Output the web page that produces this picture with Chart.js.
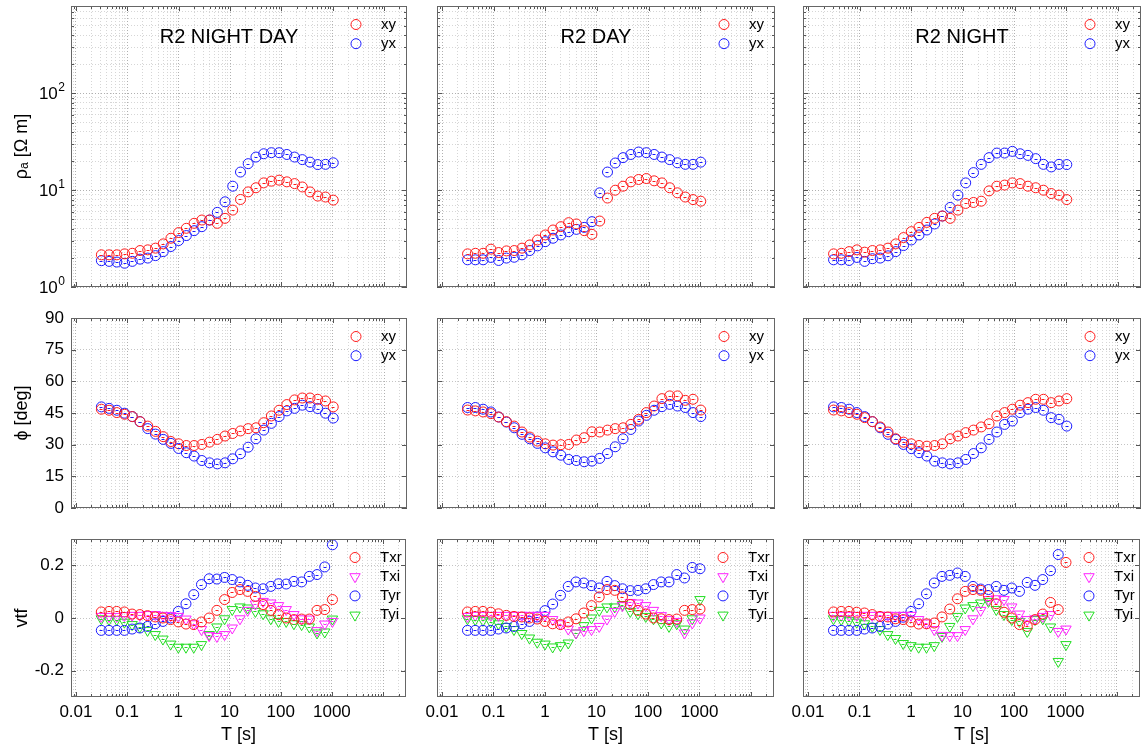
<!DOCTYPE html>
<html>
<head>
<meta charset="utf-8">
<script src="https://cdn.jsdelivr.net/npm/chart.js@4.4.1/dist/chart.umd.min.js"></script>
<style>
  body { margin: 0; background: #fff; width: 1144px; height: 748px; overflow: hidden; position: relative; }
  canvas { position: absolute; }
</style>
</head>
<body>
<script>
// periods (s), one per sounding
const periods = [0.03125, 0.0442, 0.0625, 0.0884, 0.125, 0.177, 0.25, 0.354, 0.5, 0.707, 1, 1.41, 2, 2.83, 4, 5.66,
  8, 11.3, 16, 22.6, 32, 45.3, 64, 90.5, 128, 181, 256, 362, 512, 724, 1024];

const xTickValues = [0.01, 0.1, 1, 10, 100, 1000];
const xTickLabels = ["0.01", "0.1", "1", "10", "100", "1000"];
const rhoTickValues = [1, 10, 100];
const rhoTickExps = ["0", "1", "2"];
const phiTickValues = [0, 15, 30, 45, 60, 75, 90];
const vtfTickValues = [-0.2, 0, 0.2];
const vtfTickLabels = ["-0.2", "0", "0.2"];

const panelTitles = ["R2 NIGHT DAY", "R2 DAY", "R2 NIGHT"];

// ---- R2 NIGHT DAY ----
const rhoXyNightDay = [2.15, 2.15, 2.15, 2.20, 2.23, 2.38, 2.42, 2.52, 2.79, 3.19, 3.65, 4.04, 4.55, 4.92, 4.92, 4.55, 5.12, 6.23, 8.02, 9.61, 10.6, 11.9, 12.4, 12.7, 12.2, 11.7, 10.8, 9.6, 8.7, 8.5, 7.9];
const rhoYxNightDay = [1.87, 1.84, 1.81, 1.76, 1.84, 1.94, 1.99, 2.11, 2.32, 2.62, 3.02, 3.40, 3.82, 4.20, 4.92, 5.90, 7.59, 11.0, 15.4, 18.8, 22.0, 23.8, 24.4, 24.4, 23.4, 22.0, 20.7, 19.5, 18.4, 18.5, 19.2];
const phiXyNightDay = [46.8, 46.3, 45.2, 44.4, 43.3, 40.9, 38.8, 36.3, 33.8, 31.5, 30.4, 29.6, 29.6, 30.1, 31.2, 32.5, 34.1, 35.3, 36.5, 37.6, 38.0, 40.4, 43.6, 46.3, 49.0, 51.2, 52.1, 52.1, 51.5, 50.7, 47.9];
const phiYxNightDay = [47.9, 47.2, 46.3, 44.9, 43.3, 40.9, 37.6, 35.0, 32.5, 30.6, 28.2, 26.2, 24.6, 22.5, 21.4, 20.9, 21.4, 23.3, 25.7, 28.8, 32.8, 36.9, 40.1, 43.3, 46.0, 47.2, 48.7, 48.0, 47.1, 44.9, 42.6];
const txrNightDay = [0.023, 0.025, 0.025, 0.023, 0.015, 0.013, 0.009, 0.004, 0, -0.006, -0.015, -0.023, -0.025, -0.015, 0, 0.029, 0.070, 0.097, 0.108, 0.101, 0.082, 0.051, 0.029, 0.013, 0, -0.006, -0.004, -0.004, 0.029, 0.032, 0.070];
const txiNightDay = [0.006, 0.006, 0.006, 0.009, 0.010, 0.010, 0.013, 0.013, 0.010, 0.009, 0.006, -0.004, -0.022, -0.044, -0.067, -0.070, -0.063, -0.038, -0.003, 0.029, 0.053, 0.063, 0.057, 0.047, 0.032, 0.013, -0.003, -0.004, -0.048, -0.023, -0.013];
const tyrNightDay = [-0.047, -0.047, -0.047, -0.047, -0.042, -0.038, -0.032, -0.022, -0.013, 0, 0.025, 0.054, 0.089, 0.127, 0.149, 0.148, 0.154, 0.146, 0.137, 0.124, 0.114, 0.111, 0.120, 0.130, 0.129, 0.139, 0.137, 0.158, 0.165, 0.194, 0.278];
const tyiNightDay = [-0.003, -0.006, -0.006, -0.016, -0.025, -0.034, -0.047, -0.063, -0.080, -0.099, -0.111, -0.111, -0.111, -0.101, -0.063, -0.034, -0.003, 0.032, 0.042, 0.038, 0.025, 0.016, -0.003, -0.013, -0.013, -0.022, -0.025, -0.034, -0.057, -0.053, -0.004];

// ---- R2 DAY ----
const rhoXyDay = [2.20, 2.23, 2.23, 2.46, 2.27, 2.36, 2.38, 2.52, 2.72, 3.06, 3.45, 3.88, 4.20, 4.62, 4.48, 3.82, 3.50, 4.80, 8.3, 10.0, 11.0, 12.2, 12.9, 13.2, 12.5, 11.9, 10.6, 9.4, 8.5, 8.0, 7.7];
const rhoYxDay = [1.91, 1.91, 1.91, 2.02, 1.88, 1.99, 2.03, 2.15, 2.38, 2.66, 2.94, 3.19, 3.45, 3.73, 3.94, 4.13, 4.73, 9.4, 15.4, 19.1, 21.7, 23.4, 24.8, 24.4, 23.4, 22.0, 20.7, 19.2, 18.5, 18.5, 19.5];
const phiXyDay = [46.4, 46.0, 45.5, 44.7, 43.1, 40.9, 38.8, 36.0, 33.6, 31.7, 30.4, 29.8, 30.0, 30.1, 32.2, 33.3, 36.1, 36.0, 36.9, 37.6, 38.0, 39.6, 42.0, 45.2, 48.3, 51.8, 53.1, 53.1, 51.0, 51.5, 46.4];
const phiYxDay = [47.6, 47.6, 46.8, 45.5, 43.1, 40.7, 38.0, 34.9, 32.8, 30.6, 28.5, 26.6, 25.0, 23.0, 22.5, 21.9, 22.2, 23.5, 25.8, 29.0, 32.8, 37.2, 41.2, 43.9, 46.3, 48.0, 49.1, 48.3, 47.6, 45.2, 43.3];
const txrDay = [0.023, 0.025, 0.025, 0.022, 0.016, 0.010, 0.006, 0.004, 0, -0.004, -0.013, -0.022, -0.025, -0.015, -0.003, 0.019, 0.047, 0.080, 0.108, 0.105, 0.080, 0.051, 0.029, 0.015, 0, -0.003, -0.006, -0.004, 0.029, 0.032, 0.034];
const txiDay = [0.006, 0.010, 0.010, 0.010, 0.010, 0.010, 0.010, 0.010, 0.010, 0.010, 0.010, -0.006, -0.022, -0.042, -0.057, -0.048, -0.044, -0.032, -0.004, 0.025, 0.047, 0.059, 0.057, 0.047, 0.029, 0.009, -0.006, -0.013, -0.057, -0.019, 0];
const tyrDay = [-0.047, -0.047, -0.047, -0.047, -0.042, -0.038, -0.032, -0.022, -0.013, 0.004, 0.028, 0.053, 0.086, 0.120, 0.137, 0.133, 0.123, 0.114, 0.139, 0.123, 0.111, 0.104, 0.105, 0.111, 0.127, 0.137, 0.137, 0.165, 0.152, 0.192, 0.187];
const tyiDay = [-0.003, -0.006, -0.009, -0.015, -0.022, -0.032, -0.044, -0.059, -0.076, -0.092, -0.099, -0.110, -0.105, -0.095, -0.057, -0.029, 0, 0.029, 0.042, 0.042, 0.051, 0.025, 0.016, 0.006, -0.003, -0.019, -0.032, -0.022, -0.042, -0.003, 0.070];

// ---- R2 NIGHT ----
const rhoXyNight = [2.20, 2.23, 2.32, 2.42, 2.29, 2.38, 2.42, 2.52, 2.79, 3.24, 3.73, 4.13, 4.65, 5.12, 5.41, 5.12, 6.23, 7.3, 7.47, 7.7, 9.84, 11.0, 11.3, 11.9, 11.7, 11.0, 10.6, 10.0, 9.24, 8.89, 8.0];
const rhoYxNight = [1.91, 1.91, 1.88, 2.02, 1.84, 1.96, 1.99, 2.10, 2.32, 2.68, 3.06, 3.45, 3.88, 4.48, 5.41, 6.64, 8.89, 11.9, 15.2, 18.5, 21.7, 24.2, 24.2, 25.2, 23.8, 22.9, 21.2, 18.5, 17.4, 18.5, 18.4];
const phiXyNight = [46.4, 46.0, 45.2, 44.4, 42.8, 40.9, 38.4, 36.0, 32.8, 31.2, 30.4, 29.6, 29.3, 29.6, 30.4, 32.8, 34.1, 35.7, 36.9, 38.4, 39.9, 43.6, 45.2, 46.8, 48.7, 49.9, 51.5, 51.5, 49.9, 50.7, 51.8];
const phiYxNight = [47.9, 47.6, 46.8, 45.2, 43.3, 40.9, 38.0, 34.9, 32.5, 30.1, 28.1, 26.2, 24.6, 22.2, 21.4, 20.9, 21.4, 23.0, 25.8, 28.5, 32.5, 36.0, 39.6, 41.2, 45.2, 46.8, 47.6, 46.3, 42.8, 42.0, 38.8];
const txrNight = [0.023, 0.025, 0.025, 0.022, 0.019, 0.013, 0.006, 0.004, -0.003, -0.006, -0.015, -0.023, -0.022, -0.019, 0.004, 0.034, 0.073, 0.101, 0.108, 0.105, 0.085, 0.054, 0.022, 0, -0.025, -0.032, -0.006, 0.015, 0.059, 0.032, 0.211];
const txiNight = [0.010, 0.010, 0.010, 0.010, 0.010, 0.010, 0.010, 0.010, 0.010, 0.010, 0.010, -0.006, -0.019, -0.044, -0.066, -0.067, -0.067, -0.044, -0.003, 0.029, 0.070, 0.073, 0.070, 0.042, 0.015, -0.006, -0.003, 0.006, 0.013, -0.051, -0.042];
const tyrNight = [-0.047, -0.047, -0.047, -0.047, -0.042, -0.038, -0.032, -0.023, -0.013, 0.003, 0.025, 0.054, 0.092, 0.133, 0.158, 0.162, 0.171, 0.158, 0.120, 0.110, 0.108, 0.120, 0.105, 0.114, 0.101, 0.135, 0.124, 0.146, 0.180, 0.241, null];
const tyiNight = [-0.003, -0.006, -0.010, -0.016, -0.022, -0.032, -0.044, -0.063, -0.078, -0.097, -0.105, -0.111, -0.111, -0.105, -0.070, -0.032, 0.006, 0.038, 0.047, 0.057, 0.063, 0.032, 0.013, -0.006, -0.013, -0.051, -0.006, -0.003, -0.034, -0.165, -0.101];

const stations = [
  { rhoXy: rhoXyNightDay, rhoYx: rhoYxNightDay, phiXy: phiXyNightDay, phiYx: phiYxNightDay, txr: txrNightDay, txi: txiNightDay, tyr: tyrNightDay, tyi: tyiNightDay },
  { rhoXy: rhoXyDay, rhoYx: rhoYxDay, phiXy: phiXyDay, phiYx: phiYxDay, txr: txrDay, txi: txiDay, tyr: tyrDay, tyi: tyiDay },
  { rhoXy: rhoXyNight, rhoYx: rhoYxNight, phiXy: phiXyNight, phiYx: phiYxNight, txr: txrNight, txi: txiNight, tyr: tyrNight, tyi: tyiNight }
];

// plot boxes in page pixels
const cols = [{ left: 71, right: 412 }, { left: 437, right: 780 }, { left: 803, right: 1146 }];
const rows = [{ top: 5, bottom: 287 }, { top: 318, bottom: 508 }, { top: 539, bottom: 697 }];

const FONT = "'Liberation Sans', Arial, sans-serif";
const RED = "#ff1a1a", BLUE = "#1a1aff", MAGENTA = "#ff22ff", GREEN = "#22dd22";

function logTicks(min, max) {
  const out = [];
  for (let e = -3; e <= 5; e++) {
    for (let m = 1; m <= 9; m++) {
      const v = +(m * Math.pow(10, e)).toPrecision(6);
      if (v >= min * 0.9999 && v <= max * 1.0001) out.push(v);
    }
  }
  return out;
}
const isDecade = v => Math.abs(Math.log10(v) - Math.round(Math.log10(v))) < 1e-6;

function series(label, values, color, style) {
  return {
    label: label,
    data: periods.map((t, i) => ({ x: t, y: values[i] })),
    pointStyle: style === "tri" ? "triangle" : "circle",
    pointRotation: style === "tri" ? 180 : 0,
    pointRadius: style === "tri" ? 6 : 5,
    pointBorderWidth: 1,
    borderColor: color,
    backgroundColor: "rgba(0,0,0,0)",
    showLine: false
  };
}

// frame, inward ticks, error dashes, titles, legend, exponent labels
const decorPlugin = {
  id: "decor",
  afterDatasetsDraw(chart) {
    const ctx = chart.ctx;
    ctx.save();
    chart.data.datasets.forEach((ds, i) => {
      const meta = chart.getDatasetMeta(i);
      ctx.strokeStyle = ds.borderColor;
      ctx.lineWidth = 1;
      meta.data.forEach(pt => {
        if (pt.skip || isNaN(pt.y)) return;
        ctx.beginPath();
        ctx.moveTo(Math.round(pt.x) - 1.5, Math.round(pt.y) + 0.5);
        ctx.lineTo(Math.round(pt.x) + 1.5, Math.round(pt.y) + 0.5);
        ctx.stroke();
      });
    });
    ctx.restore();
  },
  afterDraw(chart, args, opts) {
    const ctx = chart.ctx;
    const a = chart.chartArea;
    const xs = chart.scales.x, ys = chart.scales.y;
    ctx.save();
    // inward tick marks
    ctx.strokeStyle = "#555";
    ctx.lineWidth = 1;
    ctx.beginPath();
    xs.ticks.forEach(t => {
      const px = Math.round(xs.getPixelForValue(t.value)) + 0.5;
      const len = isDecade(t.value) ? 5 : 3;
      ctx.moveTo(px, a.bottom); ctx.lineTo(px, a.bottom - len);
      ctx.moveTo(px, a.top); ctx.lineTo(px, a.top + len);
    });
    ys.ticks.forEach(t => {
      const py = Math.round(ys.getPixelForValue(t.value)) + 0.5;
      const len = ys.type === "logarithmic" && !isDecade(t.value) ? 3 : 5;
      ctx.moveTo(a.left, py); ctx.lineTo(a.left + len, py);
      ctx.moveTo(a.right, py); ctx.lineTo(a.right - len, py);
    });
    ctx.stroke();
    ctx.strokeStyle = "#666";
    ctx.strokeRect(a.left + 0.5, a.top + 0.5, a.right - a.left - 1, a.bottom - a.top - 1);

    ctx.fillStyle = "#000";
    if (opts.title) {
      ctx.font = "20px " + FONT;
      ctx.textAlign = "center";
      ctx.textBaseline = "alphabetic";
      ctx.fillText(opts.title, (a.left + a.right) / 2 - 10, a.top + 37);
    }
    // legend inside the plot box
    ctx.font = "15px " + FONT;
    ctx.textAlign = "left";
    ctx.textBaseline = "middle";
    chart.data.datasets.forEach((ds, i) => {
      const ly = a.top + 18.5 + 19.2 * i;
      const lx = a.right - 51;
      ctx.strokeStyle = ds.borderColor;
      ctx.fillStyle = "rgba(0,0,0,0)";
      ctx.lineWidth = 1;
      Chart.helpers.drawPoint(ctx, { pointStyle: ds.pointStyle, radius: ds.pointRadius, rotation: ds.pointRotation, borderWidth: 1 }, lx, ly);
      ctx.fillStyle = "#000";
      ctx.fillText(ds.label, a.right - 26, ly);
    });
    // 10^n labels on the resistivity axis
    if (opts.expLabels) {
      const right = a.left - 6;
      rhoTickValues.forEach((v, i) => {
        const py = ys.getPixelForValue(v);
        ctx.font = "12px " + FONT;
        const ew = ctx.measureText(rhoTickExps[i]).width;
        ctx.textAlign = "left";
        ctx.textBaseline = "alphabetic";
        ctx.fillText(rhoTickExps[i], right - ew, py - 2.5);
        ctx.font = "17px " + FONT;
        ctx.textAlign = "right";
        ctx.textBaseline = "middle";
        ctx.fillText("10", right - ew - 0.5, py + 1);
      });
    }
    ctx.restore();
  }
};

function makePanel(r, c, datasets, yConf) {
  const col = cols[c], row = rows[r];
  const yW = c === 0 ? 71 : 12;
  const padTop = r === 0 ? 5 : 14;
  const xH = r === 2 ? 51 : 14;
  const w = col.right - col.left + yW + 1;
  const h = row.bottom - row.top + padTop + xH;
  const cv = document.createElement("canvas");
  cv.width = w; cv.height = h;
  cv.style.left = (col.left - yW) + "px";
  cv.style.top = (row.top - padTop) + "px";
  document.body.appendChild(cv);

  const xTicks = logTicks(0.008, 28000);
  const tickFont = { family: FONT, size: 17 };
  const titleFont = { family: FONT, size: 18 };

  const yScale = Object.assign({
    position: "left",
    afterFit: s => { s.width = yW; s.paddingTop = 0; s.paddingBottom = 0; },
    border: { display: false, dash: [1, 2] },
    ticks: { display: c === 0, autoSkip: false, padding: 7, color: "#000", font: tickFont },
    title: { display: c === 0, text: yConf.title, color: "#000", font: titleFont, padding: { top: 11, bottom: 0 } }
  }, yConf.scale);
  yScale.ticks = Object.assign(yScale.ticks, yConf.ticks || {});

  new Chart(cv, {
    type: "scatter",
    data: { datasets: datasets },
    options: {
      responsive: false,
      animation: false,
      events: [],
      layout: { padding: { top: padTop, right: 1, left: 0, bottom: 0 } },
      scales: {
        x: {
          type: "logarithmic",
          position: "bottom",
          min: 0.008,
          max: 28000,
          afterBuildTicks: s => { s.ticks = xTicks.map(v => ({ value: v })); },
          afterFit: s => { s.height = xH; s.paddingLeft = 0; s.paddingRight = 0; },
          grid: { drawTicks: false, color: ctx => isDecade(ctx.tick.value) ? "#b0b0b0" : "#d6d6d6" },
          border: { display: false, dash: [1, 2] },
          ticks: {
            display: r === 2, autoSkip: false, maxRotation: 0, padding: 5, color: "#000", font: tickFont,
            callback: v => {
              const k = xTickValues.findIndex(t => Math.abs(t - v) / t < 1e-6);
              return k >= 0 ? xTickLabels[k] : "";
            }
          },
          title: { display: r === 2, text: "T [s]", color: "#000", font: titleFont, padding: { top: 0, bottom: 2 } }
        },
        y: yScale
      },
      plugins: {
        legend: { display: false },
        tooltip: { enabled: false },
        decor: { title: r === 0 ? panelTitles[c] : null, expLabels: r === 0 && c === 0 }
      }
    },
    plugins: [decorPlugin]
  });
}

const rhoTicks = logTicks(1, 800);

stations.forEach((st, c) => {
  makePanel(0, c, [series("xy", st.rhoXy, RED, "o"), series("yx", st.rhoYx, BLUE, "o")], {
    title: "ρₐ [Ω m]",
    scale: {
      type: "logarithmic", min: 1, max: 800,
      afterBuildTicks: s => { s.ticks = rhoTicks.map(v => ({ value: v })); },
      grid: { drawTicks: false, color: ctx => isDecade(ctx.tick.value) ? "#b0b0b0" : "#d6d6d6" }
    },
    ticks: { callback: () => "" }
  });
  makePanel(1, c, [series("xy", st.phiXy, RED, "o"), series("yx", st.phiYx, BLUE, "o")], {
    title: "ϕ [deg]",
    scale: {
      type: "linear", min: 0, max: 90,
      afterBuildTicks: s => { s.ticks = phiTickValues.map(v => ({ value: v })); },
      grid: { drawTicks: false, color: "#c4c4c4" }
    },
    ticks: { callback: v => String(v) }
  });
  makePanel(2, c, [series("Txr", st.txr, RED, "o"), series("Txi", st.txi, MAGENTA, "tri"),
                   series("Tyr", st.tyr, BLUE, "o"), series("Tyi", st.tyi, GREEN, "tri")], {
    title: "vtf",
    scale: {
      type: "linear", min: -0.3, max: 0.3,
      afterBuildTicks: s => { s.ticks = vtfTickValues.map(v => ({ value: v })); },
      grid: { drawTicks: false, color: "#c4c4c4" }
    },
    ticks: {
      callback: v => {
        const k = vtfTickValues.findIndex(t => Math.abs(t - v) < 1e-9);
        return k >= 0 ? vtfTickLabels[k] : "";
      }
    }
  });
});
</script>
</body>
</html>
